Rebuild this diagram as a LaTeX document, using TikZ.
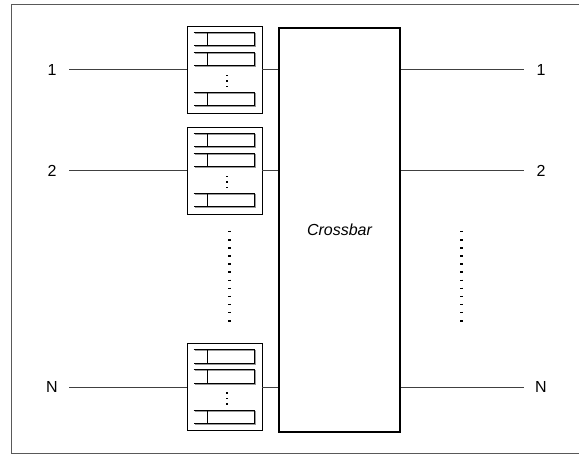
\documentclass[tikz,border=0pt]{standalone}
\usepackage{fontspec}
\setmainfont{Liberation Sans}
\usetikzlibrary{positioning}

% cells of one input queue, drawn inside the box named #1
\newcommand{\queuecells}[1]{%
  \begin{scope}[shift={(#1.north west)}]
    \foreach \t in {6.7,26.7,67}{
      \draw[cellshade] (8,\t+1) -- (69,\t+1) -- (69,\t+14.3) -- (8,\t+14.3);
      \draw[cell] (7,\t) -- (68,\t) -- (68,\t+13.3) -- (7,\t+13.3);
      \draw[cell] (20.3,\t) -- (20.3,\t+13.3);
    }
    \foreach \d in {49,54.5,60}
      \fill (39,\d) rectangle (41.5,\d+1.5);
  \end{scope}}

\begin{document}
\begin{tikzpicture}[x=1pt,y=-1pt,
    font=\fontsize{16}{19}\selectfont,
    frame/.style={draw=black!65, line width=1pt},
    queue/.style={draw, line width=0.8pt, minimum width=75pt, minimum height=87pt, inner sep=0pt},
    cell/.style={line width=0.8pt},
    cellshade/.style={line width=0.8pt, draw=black!40},
    switch/.style={draw, line width=2pt, minimum width=121pt, minimum height=404pt, inner sep=0pt},
    port/.style={minimum width=34pt, inner sep=0pt},
    link/.style={line width=0.7pt, draw=black!75},
    gap/.style={line width=3pt, dash pattern=on 1.5pt off 6.6pt}]
  \useasboundingbox (0,0) rectangle (579,457);
  \draw[frame] (11,4.5) rectangle (595,453.5);

  \node[queue] (q1) at (224.5,69.5) {};
  \node[queue] (q2) at (224.5,170.5) {};
  \node[queue] (qN) at (224.5,387) {};
  \queuecells{q1}
  \queuecells{q2}
  \queuecells{qN}

  \node[switch] (xbar) at (339.5,230) {\itshape Crossbar};

  \node[port] (in1) at (52,69.5) {1};
  \node[port] (in2) at (52,170.5) {2};
  \node[port] (inN) at (52,387) {N};
  \node[port] (out1) at (541,69.5) {1};
  \node[port] (out2) at (541,170.5) {2};
  \node[port] (outN) at (541,387) {N};

  \foreach \p in {1,2,N}{
    \draw[link] (in\p) -- (q\p);
    \draw[link] (q\p) -- (xbar.west |- q\p);
    \draw[link] (xbar.east |- out\p) -- (out\p);
  }

  % ellipsis between queue 2 and queue N, and between the outputs
  \coordinate (gapL) at (229,231);
  \coordinate (gapR) at (461,231);
  \draw[gap] (gapL) -- ++(0,92);
  \draw[gap] (gapR) -- ++(0,92);
\end{tikzpicture}
\end{document}
